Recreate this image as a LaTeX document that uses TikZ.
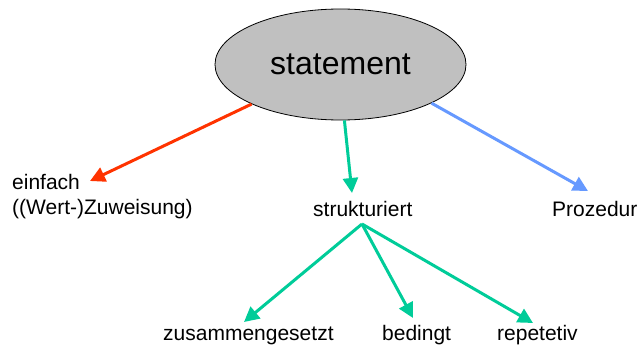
\documentclass[tikz,border=0pt]{standalone}
\usepackage{fontspec}
\setmainfont{Liberation Sans}
\usetikzlibrary{arrows.meta,shapes.geometric}
\definecolor{cred}{HTML}{FF3300}
\definecolor{cgreen}{HTML}{00CC99}
\definecolor{cblue}{HTML}{6699FF}
\definecolor{cgray}{HTML}{C0C0C0}
\tikzset{
  lbl/.style={anchor=base west,inner sep=0pt,font=\fontsize{21}{25}\selectfont},
  conn/.style={line width=3pt,-{Triangle[length=15pt,width=15pt]}},
}
\begin{document}
\begin{tikzpicture}[x=1pt,y=-1pt]
\useasboundingbox (0,0) rectangle (639,345);
\node[ellipse,draw=black,line width=0.8pt,fill=cgray,minimum width=251pt,minimum height=111pt,inner sep=0pt,font=\fontsize{32}{38}\selectfont] (stmt) at (340.5,64.5) {statement};
\node[lbl] (einfach) at (12,189) {einfach};
\node[lbl] (zuw) at (12,214) {((Wert-)Zuweisung)};
\node[lbl] (strukt) at (313,216) {strukturiert};
\node[lbl] (proz) at (552,216) {Prozedur};
\node[lbl] (zus) at (163,340) {zusammengesetzt};
\node[lbl] (bed) at (382,340) {bedingt};
\node[lbl] (rep) at (497,340) {repetetiv};
\coordinate (tE) at (90,181);
\coordinate (tS) at (352,193);
\coordinate (tP) at (588,191);
\coordinate (oS) at (362,224);
\coordinate (tZ) at (244,322);
\coordinate (tB) at (413,318);
\coordinate (tR) at (533,323);
\draw[conn,cred] (stmt.204) -- (tE);
\draw[conn,cgreen] (stmt.274.6) -- (tS);
\draw[conn,cblue] (stmt.337.7) -- (tP);
\draw[conn,cgreen] (oS) -- (tZ);
\draw[conn,cgreen] (oS) -- (tB);
\draw[conn,cgreen] (oS) -- (tR);
\end{tikzpicture}
\end{document}
